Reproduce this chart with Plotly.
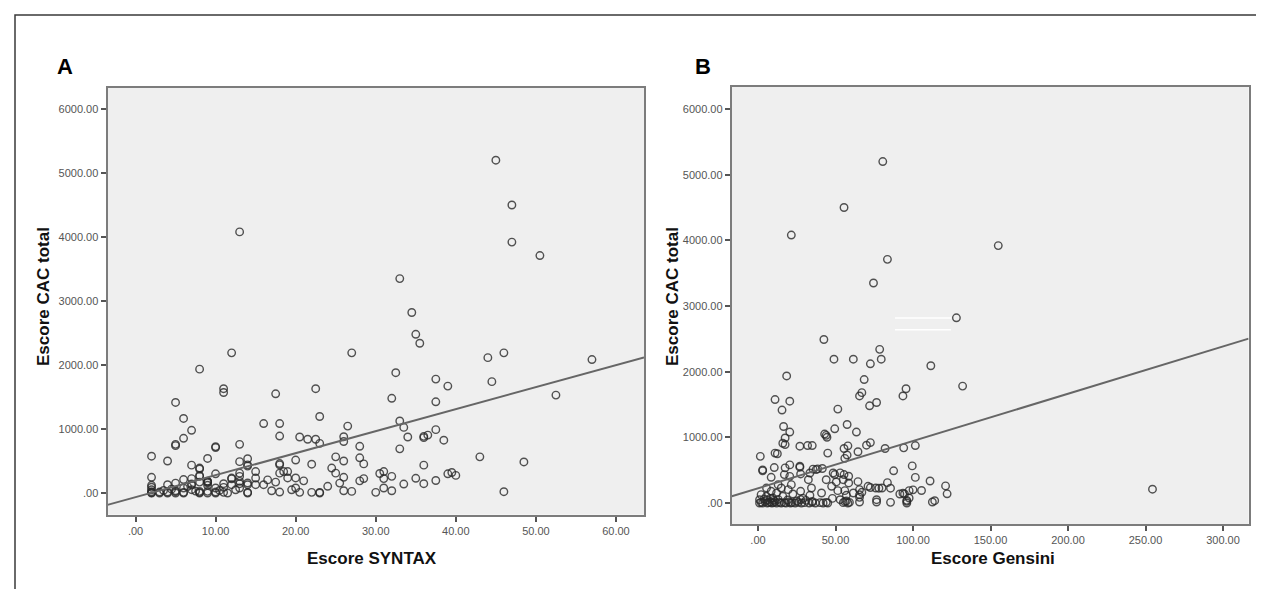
import plotly.graph_objects as go

# ---------------- data ----------------
syntax_x = [45, 47, 13, 47, 50.5, 33, 34.5, 35, 35.5, 12, 27, 46, 44, 57, 8, 32.5, 37.5, 44.5, 39, 11,
            22.5, 11, 17.5, 52.5, 32, 5, 37.5, 6, 23, 33, 16, 18, 26.5, 33.5, 7, 37.5, 18, 20.5, 6, 21.5,
            22.5, 26, 26, 23, 34, 36, 36, 36.5, 38.5, 5, 5, 10, 10, 13, 28, 33, 2, 4, 9, 14,
            13, 14, 14, 20, 25, 26, 28, 28.5, 22, 18, 18, 43, 48.5, 36, 7, 8, 8, 8, 10, 9,
            9, 15, 13, 13, 13, 12, 11, 14, 15, 16, 16.5, 17.5, 17, 18, 18, 18.5, 19, 19, 19.5, 20,
            20, 20.5, 21, 22, 23, 23, 24, 24.5, 25, 25.5, 26, 26, 27, 28, 28.5, 30, 30.5, 31, 31, 31,
            32, 32, 33.5, 35, 36, 37.5, 39, 39.5, 40, 46,
            2, 2, 2, 2, 2, 2, 2, 3, 4, 4, 4, 5, 5, 5, 5, 6, 6, 6, 6, 7,
            7, 7, 7, 8, 8, 8, 8, 8, 9, 9, 9, 9, 9, 10, 10, 10, 11, 11, 12, 12,
            13, 13, 14, 14, 15, 3, 3.5, 4.5, 6.5, 7.5, 10.5, 12.5, 14, 11.5]
cac_a = [5200, 4500, 4080, 3920, 3710, 3350, 2820, 2480, 2340, 2190, 2190, 2190, 2115, 2085, 1935, 1880, 1780, 1740, 1670, 1630,
         1630, 1570, 1550, 1530, 1480, 1415, 1425, 1165, 1195, 1125, 1085, 1085, 1045, 1025, 980, 990, 890, 875, 855, 840,
         840, 880, 805, 775, 875, 865, 885, 905, 825, 740, 760, 710, 725, 760, 730, 690, 575, 500, 540, 535,
         490, 440, 420, 515, 565, 500, 550, 455, 450, 460, 440, 565, 485, 435, 435, 390, 375, 260, 300, 170,
         185, 335, 310, 260, 145, 220, 145, 130, 130, 130, 205, 170, 35, 15, 310, 335, 335, 235, 50, 235,
         78, 10, 190, 10, 10, 0, 105, 390, 310, 155, 245, 35, 25, 190, 225, 10, 305, 335, 225, 78,
         260, 35, 140, 230, 145, 195, 300, 320, 275, 20,
         245, 120, 90, 50, 20, 0, 5, 15, 130, 15, 0, 155, 35, 20, 0, 210, 78, 10, 0, 225,
         140, 125, 52, 275, 170, 26, 10, 0, 182, 160, 26, 120, 0, 78, 15, 0, 88, 10, 130, 234,
         182, 78, 156, 10, 234, 0, 40, 60, 100, 30, 40, 50, 0, 0]

gensini_x = [80.5, 55.5, 21.5, 155, 83.5, 74.5, 128, 42.5, 78.5, 49, 61.5, 79.5, 72.5, 111.5, 18.5, 68.5, 132, 95.5, 67, 65.5,
             93.5, 11, 20.5, 76.5, 72, 15.5, 51.5, 57.5, 49.5, 16.5, 20.5, 63.5, 43, 44, 44.5, 17.5, 17.5, 16, 27, 32,
             35, 72.5, 70, 82, 94, 101.5, 55.5, 58, 64.5, 45, 11, 12.5, 1.5, 56, 57.5, 3, 3, 10.5, 17.5, 20.5,
             27, 27, 35.5, 38.5, 41.5, 49.5, 53, 55.5, 58.5, 87.5, 99.5, 101.5, 111, 121, 122, 105.5, 100, 93.5, 85.5, 83.5,
             78, 72.5, 64.5, 65.5, 65.5, 76.5, 76.5, 85.5, 96, 96, 97.5, 96, 112.5, 114, 254.5, 67, 91.5, 94.5, 97.5, 80,
             76, 71, 65.5, 65.5, 61.5, 57, 56, 51.5, 58.5, 55, 50.5, 48.5, 47.5, 44, 41, 35, 33.5, 34.5, 32.5, 27.5,
             27.5, 22.5, 21.5, 19.5, 16, 15, 12, 9.5, 8.5, 5.5, 2, 1, 5.5, 13, 8.5, 20.5, 17, 27.5, 33.5, 37.5,
             1, 2, 3, 4.5, 6, 7, 8, 9, 10, 11, 12, 14, 15, 17, 18, 20, 21, 22, 24, 26,
             28, 30, 33, 35, 37, 40, 42, 44, 45, 55, 56, 58, 59, 4, 6, 8, 10, 13, 19, 25,
             29, 31, 48, 53, 57]
cac_b = [5200, 4500, 4080, 3920, 3710, 3350, 2820, 2490, 2340, 2190, 2190, 2190, 2120, 2090, 1935, 1880, 1780, 1740, 1680, 1630,
         1630, 1575, 1550, 1530, 1480, 1415, 1430, 1195, 1130, 1165, 1080, 1080, 1050, 1030, 1000, 990, 890, 910, 865, 875,
         875, 920, 880, 830, 840, 875, 830, 870, 780, 760, 760, 750, 710, 680, 730, 505, 490, 540, 535, 580,
         560, 545, 515, 520, 525, 433, 458, 433, 407, 490, 565, 390, 335, 260, 140, 190, 200, 150, 225, 310,
         225, 235, 325, 125, 15, 50, 15, 10, 25, 40, 76, 0, 15, 35, 210, 163, 137, 137, 188, 228,
         228, 254, 203, 86, 152, 117, 188, 188, 305, 355, 320, 457, 254, 355, 152, 25, 117, 228, 355, 51,
         178, 137, 279, 203, 102, 228, 152, 76, 178, 102, 127, 50, 228, 279, 391, 406, 432, 442, 457, 508,
         0, 10, 0, 20, 0, 5, 15, 0, 5, 20, 0, 10, 0, 5, 0, 15, 0, 5, 0, 10,
         0, 5, 0, 10, 0, 5, 0, 10, 0, 5, 20, 0, 10, 60, 45, 70, 40, 55, 45, 30,
         70, 40, 70, 50, 30]

# regression lines (intercept, slope)
fit_a = (-65, 34.4)
fit_b = (224, 7.2)

# tick labels
a_xticks = [0, 10, 20, 30, 40, 50, 60]
a_xtext = [".00", "10.00", "20.00", "30.00", "40.00", "50.00", "60.00"]
b_xticks = [0, 50, 100, 150, 200, 250, 300]
b_xtext = [".00", "50.00", "100.00", "150.00", "200.00", "250.00", "300.00"]
yticks = [0, 1000, 2000, 3000, 4000, 5000, 6000]
ytext = [".00", "1000.00", "2000.00", "3000.00", "4000.00", "5000.00", "6000.00"]

# ---------------- layout helpers ----------------
W, H = 1264, 589
def px(x):
    return x / W
def py(y):
    return 1 - y / H

FONT = "Liberation Sans, Arial, sans-serif"
a_xrange = [-3.5, 63.5]
a_yrange = [-339, 6328]
b_xrange = [-16.9, 316.5]
b_yrange = [-320, 6335]

marker = dict(symbol="circle-open", size=7.5, color="rgba(40,40,40,0.8)",
              line=dict(width=1.4, color="rgba(40,40,40,0.8)"))
line_style = dict(color="#666666", width=2)

fig = go.Figure()
fig.add_trace(go.Scatter(x=syntax_x, y=cac_a, mode="markers", marker=marker,
                         xaxis="x", yaxis="y", showlegend=False))
fig.add_trace(go.Scatter(x=a_xrange, y=[fit_a[0] + fit_a[1] * v for v in a_xrange],
                         mode="lines", line=line_style, xaxis="x", yaxis="y", showlegend=False))
fig.add_trace(go.Scatter(x=gensini_x, y=cac_b, mode="markers", marker=marker,
                         xaxis="x2", yaxis="y2", showlegend=False))
fig.add_trace(go.Scatter(x=b_xrange, y=[fit_b[0] + fit_b[1] * v for v in b_xrange],
                         mode="lines", line=line_style, xaxis="x2", yaxis="y2", showlegend=False))

axis_common = dict(showgrid=False, zeroline=False, showline=True, mirror=True,
                   linecolor="#7c7c7c", linewidth=2, ticks="outside", ticklen=5,
                   tickwidth=2, tickcolor="#555555",
                   tickfont=dict(family=FONT, size=11, color="#555555"))

fig.update_layout(
    width=W, height=H, margin=dict(l=0, r=0, t=0, b=0),
    paper_bgcolor="white", plot_bgcolor="#efefef",
    xaxis=dict(domain=[px(99.5), px(636)], range=a_xrange, anchor="y",
               tickvals=a_xticks, ticktext=a_xtext, **axis_common),
    yaxis=dict(domain=[py(506.7), py(80)], range=a_yrange, anchor="x",
               tickvals=yticks, ticktext=ytext, **axis_common),
    xaxis2=dict(domain=[px(723.8), px(1240.6)], range=b_xrange, anchor="y2",
                tickvals=b_xticks, ticktext=b_xtext, **axis_common),
    yaxis2=dict(domain=[py(516), py(79)], range=b_yrange, anchor="x2",
                tickvals=yticks, ticktext=ytext, **axis_common),
)

title_font = dict(family=FONT, size=17, color="#111111")
ann = [
    dict(text="<b>A</b>", x=px(57), y=py(58), font=dict(family=FONT, size=22, color="#000")),
    dict(text="<b>B</b>", x=px(695), y=py(59), font=dict(family=FONT, size=22, color="#000")),
    dict(text="<b>Escore SYNTAX</b>", x=px(364), y=py(550), font=title_font),
    dict(text="<b>Escore Gensini</b>", x=px(985), y=py(550), font=title_font),
    dict(text="<b>Escore CAC total</b>", x=px(35), y=py(289), textangle=-90, font=title_font),
    dict(text="<b>Escore CAC total</b>", x=px(664), y=py(289), textangle=-90, font=title_font),
]
for a in ann:
    a.update(xref="paper", yref="paper", xanchor="center", yanchor="middle", showarrow=False)
fig.update_layout(annotations=ann)

# outer frame (top, left, right) and small white scan artefacts in panel B
shapes = [
    dict(type="path", xref="paper", yref="paper",
         path=f"M {px(7)} {py(589)} L {px(7)} {py(7)} L {px(1263)} {py(7)} L {px(1263)} {py(589)}",
         line=dict(color="#3a3a3a", width=1.5)),
    dict(type="line", xref="paper", yref="paper", x0=px(887), x1=px(943), y0=py(310), y1=py(310),
         line=dict(color="white", width=1.5)),
    dict(type="line", xref="paper", yref="paper", x0=px(887), x1=px(943), y0=py(321.7), y1=py(321.7),
         line=dict(color="white", width=1.5)),
]
fig.update_layout(shapes=shapes)

fig.write_html("out.html")
